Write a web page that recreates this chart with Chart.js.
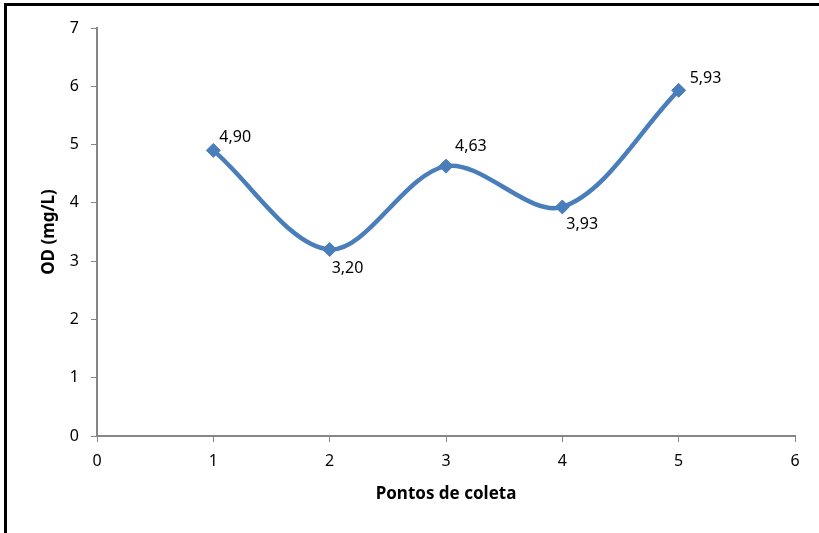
<!DOCTYPE html>
<html>
<head>
<meta charset="utf-8">
<script src="https://cdn.jsdelivr.net/npm/chart.js@4"></script>
<style>
  html, body { margin: 0; padding: 0; background: #fff; }
  #wrap { position: relative; width: 819px; height: 533px; overflow: hidden; }
  #frame { position: absolute; left: 4px; top: 3px; right: 0; bottom: 0;
           border-left: 3px solid #000; border-top: 3px solid #000; pointer-events: none; }
  canvas { position: absolute; left: 0; top: 0; }
</style>
</head>
<body>
<div id="wrap">
  <canvas id="c" width="819" height="533"></canvas>
  <div id="frame"></div>
</div>
<script>
// Sampling points and dissolved oxygen readings
const pontos = [1, 2, 3, 4, 5];
const od = [4.90, 3.20, 4.63, 3.93, 5.93];
const rotulos = ['4,90', '3,20', '4,63', '3,93', '5,93'];
const xTicks = [0, 1, 2, 3, 4, 5, 6];
const yTicks = [0, 1, 2, 3, 4, 5, 6, 7];

const lineColor = '#4a7ebb';
const axisColor = '#868686';
const fontFamily = '"Noto Sans", sans-serif';
const tickFont = { family: fontFamily, size: 16 };

// Value labels next to each marker
const valueLabels = {
  id: 'valueLabels',
  afterDatasetsDraw(chart, args, opts) {
    const ctx = chart.ctx;
    const meta = chart.getDatasetMeta(0);
    ctx.save();
    ctx.font = '16px ' + fontFamily;
    ctx.fillStyle = '#000';
    ctx.textAlign = 'left';
    ctx.textBaseline = 'middle';
    meta.data.forEach((pt, i) => {
      const off = opts.offsets[i];
      ctx.fillText(rotulos[i], pt.x + off[0], pt.y + off[1]);
    });
    ctx.restore();
  }
};

new Chart(document.getElementById('c'), {
  type: 'scatter',
  data: {
    datasets: [{
      data: pontos.map((x, i) => ({ x: x, y: od[i] })),
      showLine: true,
      borderColor: lineColor,
      backgroundColor: lineColor,
      borderWidth: 4.5,
      tension: 0.33,
      pointStyle: 'rectRot',
      pointRadius: 7,
      pointBorderWidth: 1,
      pointBackgroundColor: lineColor,
      pointBorderColor: lineColor
    }]
  },
  options: {
    responsive: false,
    animation: false,
    layout: { padding: { top: 28, right: 24, left: 0, bottom: 0 } },
    plugins: {
      legend: { display: false },
      tooltip: { enabled: false },
      valueLabels: {
        offsets: [[6, -13], [2, 19], [9, -20], [4, 18], [11, -12]]
      }
    },
    scales: {
      x: {
        type: 'linear',
        min: 0, max: 6,
        afterFit(s) { s.height = 97; },
        afterBuildTicks(s) { s.ticks = xTicks.map(v => ({ value: v })); },
        ticks: { color: '#000', font: tickFont, padding: 10 },
        grid: { drawOnChartArea: false, drawTicks: true, tickLength: 6, color: axisColor, lineWidth: 1 },
        border: { color: axisColor, width: 2 },
        title: {
          display: true,
          text: 'Pontos de coleta',
          color: '#000',
          font: { family: fontFamily, size: 17, weight: 'bold' },
          padding: { top: 0, bottom: 29 }
        }
      },
      y: {
        type: 'linear',
        min: 0, max: 7,
        afterFit(s) { s.width = 97; },
        afterBuildTicks(s) { s.ticks = yTicks.map(v => ({ value: v })); },
        ticks: { color: '#000', font: tickFont, padding: 12 },
        grid: { drawOnChartArea: false, drawTicks: true, tickLength: 6, color: axisColor, lineWidth: 1 },
        border: { color: axisColor, width: 2 },
        title: {
          display: true,
          text: 'OD (mg/L)',
          color: '#000',
          font: { family: fontFamily, size: 17, weight: 'bold' },
          padding: { top: 39, bottom: 0 }
        }
      }
    }
  },
  plugins: [valueLabels]
});
</script>
</body>
</html>
